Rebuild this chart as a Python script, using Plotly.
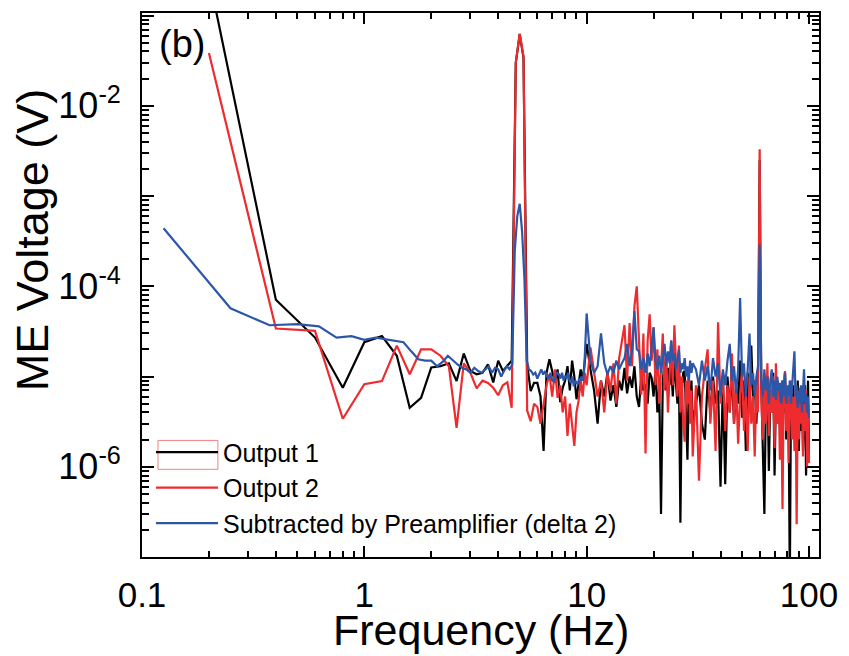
import plotly.graph_objects as go

# ---------------- data ----------------
# Output 1 / Output 2 are sampled on a 0.2 Hz grid up to 10 Hz, then coarser.
lo_start, lo_step = 0.2, 0.2      # 0.2 .. 10.0 Hz
mid_start, mid_step = 10.4, 0.4   # 10.4 .. 30.0 Hz
hi_start, hi_step = 31.0, 1.0     # 31 .. 100 Hz
# Subtracted trace uses a 0.125 Hz grid up to 10 Hz
blo_start, blo_step = 0.125, 0.125

out1_lo = [0.27, 7.1e-5, 2.7e-5, 7.5e-6, 2.4e-5,
           2.8e-5, 1.7e-5, 4.5e-6, 5.8e-6, 1.26e-5,
           1.3e-5, 1.4e-5, 8.9e-6, 1.8e-5, 1.15e-5,
           1.06e-5, 1.1e-5, 1.36e-5, 8.6e-6, 1.5e-5,
           1.15e-5, 1.3e-5, 1.5e-5, 0.03, 0.062,
           0.034, 1.36e-5, 6.9e-6, 8.5e-6, 8.5e-6,
           6e-6, 1.5e-6, 1.1e-5, 1.55e-5, 1.1e-5,
           8.5e-6, 1.2e-5, 5.2e-6, 7.5e-6, 9e-6,
           1.3e-5, 7e-6, 1.5e-5, 1e-5, 5.6e-6,
           8e-6, 1.2e-5, 9e-6, 1.4e-5, 2.3e-5]
out1_mid = [1.2e-5, 7e-6, 3e-6, 9e-6, 6e-6,
            1.1e-5, 5.4e-6, 8e-6, 4.6e-6, 9e-6,
            7e-6, 1.25e-5, 6.5e-6, 1e-5, 7.5e-6,
            1.3e-5, 6e-6, 4.6e-6, 1e-5, 7e-6,
            8.2e-6, 5e-6, 1.1e-5, 9.7e-6, 6e-6,
            1.2e-5, 4e-6, 8e-6, 3e-7, 9e-6,
            1.4e-5, 7e-6, 1.25e-5, 8e-6, 1.3e-5,
            6e-6, 1.5e-5, 9e-6, 5e-6, 1e-5,
            2.4e-7, 7e-6, 1.1e-5, 1.15e-5, 4e-6,
            1.2e-6, 8e-6, 5e-6, 9e-6, 3e-6]
out1_hi = [5e-6, 8e-6, 3e-6, 2e-6, 9e-6, 4e-6, 1e-5, 5e-6, 7e-6, 6e-7,
           9e-6, 6.4e-7, 1e-5, 4e-6, 1.2e-5, 3e-6, 8e-6, 5e-6, 1.5e-5, 3.5e-6,
           9e-6, 1.5e-6, 1.1e-5, 4e-6, 2.2e-5, 6e-6, 9e-6, 3e-6, 1.2e-5, 2.5e-3,
           8e-6, 1.1e-6, 3e-7, 6e-6, 1e-5, 9e-7, 7e-6, 4e-6, 1.1e-5, 8e-7,
           6e-6, 9e-6, 3e-6, 7e-6, 2.5e-6, 9e-6, 4e-6, 1.1e-5, 2e-6, 6e-6,
           3.5e-6, 5e-8, 7e-6, 3e-6, 8e-6, 2e-6, 6e-6, 3.5e-6, 9e-6, 1.5e-6,
           5e-6, 2.5e-6, 7e-6, 1.5e-6, 4e-6, 8e-6, 8e-7, 3e-6, 9e-6, 1.2e-6]

out2_lo = [3.85e-2, 3.4e-5, 3.2e-5, 3.4e-6, 8.2e-6,
           8.9e-6, 2.2e-5, 1.06e-5, 2e-5, 2e-5,
           1.7e-5, 1.3e-5, 2.7e-6, 1.4e-5, 1.1e-5,
           7.4e-6, 9e-6, 8.5e-6, 7.5e-6, 6.2e-6,
           8e-6, 8.6e-6, 4.5e-6, 0.03, 0.063,
           0.035, 4.2e-6, 3.2e-6, 5e-6, 4.6e-6,
           3e-6, 5e-6, 8e-6, 1.06e-5, 6e-6,
           1.2e-5, 5.8e-6, 8e-6, 4e-6, 6e-6,
           2.2e-6, 5e-6, 3e-6, 1.7e-6, 4e-6,
           5.4e-6, 9e-6, 6e-6, 1.1e-5, 8e-6]
out2_mid = [2.1e-5, 1.15e-5, 6e-6, 9e-6, 4e-6,
            1.1e-5, 7e-6, 1.4e-5, 5e-6, 1.6e-5,
            2.5e-5, 3.7e-5, 9e-6, 3.9e-5, 1.3e-5,
            6e-5, 1e-4, 2e-5, 6.3e-6, 3e-5,
            1.4e-6, 2.5e-5, 4.9e-5, 1.5e-5, 3.5e-5,
            8e-6, 2e-5, 5e-6, 1.3e-5, 3e-5,
            7e-6, 1.8e-5, 4e-6, 1.2e-5, 2.5e-5,
            8e-6, 3.7e-5, 1.5e-5, 6e-6, 2.2e-5,
            4e-6, 1e-5, 3e-6, 1.9e-6, 9e-6,
            5e-6, 1.2e-5, 3e-6, 7e-6, 1.3e-6]
out2_hi = [8e-6, 7e-7, 6e-6, 1.2e-5, 2e-5, 3e-6, 9e-6, 1.5e-6, 4e-5, 5e-6,
           1.1e-5, 2.5e-6, 8e-6, 4e-6, 1.8e-5, 3e-6, 9e-6, 1.8e-6, 6e-6, 1.2e-5,
           2.5e-6, 7e-6, 1.5e-6, 1e-5, 3e-6, 6e-6, 1.3e-6, 8e-6, 4e-6, 3.3e-3,
           6e-6, 2e-6, 9e-6, 3e-6, 1.4e-5, 2.2e-6, 7e-6, 4e-6, 1e-5, 1.6e-6,
           1.4e-5, 3e-6, 7e-6, 1.2e-6, 6e-6, 3.4e-7, 8e-6, 1.15e-5, 2.5e-6, 6e-6,
           1.1e-6, 5e-6, 9e-6, 2e-6, 6e-6, 1.5e-6, 7e-6, 2.3e-7, 5e-6, 2e-6,
           7.5e-6, 3e-6, 6e-6, 1.3e-6, 5e-6, 2.5e-6, 7e-6, 1e-6, 4e-6, 1.1e-6]

sub_lo = [4.4e-4, 5.7e-5, 3.7e-5, 3.8e-5, 3.6e-5, 2.7e-5, 2.8e-5, 2.55e-5,
          2.7e-5, 2.6e-5, 2.5e-5, 2.4e-5, 1.9e-5, 1.55e-5, 1.5e-5, 1.5e-5,
          1.3e-5, 1.45e-5, 1.7e-5, 1.5e-5, 1.36e-5, 1.25e-5, 1.2e-5, 1.1e-5,
          1.25e-5, 1.15e-5, 1.1e-5, 1.2e-5, 1.3e-5, 1.1e-5, 1.25e-5, 1.2e-5,
          1.0e-5, 1.15e-5, 1.3e-5, 1.2e-5, 1.36e-5, 2.5e-4, 6e-4, 8.2e-4,
          4e-4, 1.2e-4, 1.5e-5, 1.2e-5, 1.15e-5, 1.05e-5, 1.1e-5, 9.5e-6,
          1.1e-5, 1.2e-5, 1.05e-5, 1.15e-5, 1.0e-5, 9.5e-6, 1.1e-5, 9e-6,
          8.9e-6, 1.0e-5, 1.1e-5, 1.06e-5, 9.5e-6, 1.1e-5, 9e-6, 1.0e-5,
          9.7e-6, 1.1e-5, 9e-6, 8.5e-6, 1.0e-5, 7.8e-6, 9e-6, 8.5e-6,
          8.2e-6, 9.5e-6, 8.9e-6, 1.0e-5, 9e-6, 1.2e-5, 2.5e-5, 5e-5]
sub_mid = [1.5e-5, 1.1e-5, 1.3e-5, 3e-5, 1.4e-5,
           1.06e-5, 1.3e-5, 1.1e-5, 1.5e-5, 1.2e-5,
           1.4e-5, 1.6e-5, 2.3e-5, 1.3e-5, 2e-5,
           5.3e-5, 2e-5, 1.9e-5, 1.2e-5, 1.6e-5,
           1.1e-5, 1.8e-5, 1.3e-5, 2.2e-5, 3.5e-5,
           1.5e-5, 1.2e-5, 1.7e-5, 1.1e-5, 1.6e-5,
           2.3e-5, 1.3e-5, 1.9e-5, 1.4e-5, 2.5e-5,
           1.5e-5, 1.8e-5, 1.2e-5, 1.6e-5, 2e-5,
           1.1e-5, 1.4e-5, 1.2e-5, 1.6e-5, 1e-5,
           1.3e-5, 9e-6, 1.5e-5, 1.1e-5, 1.4e-5]
sub_hi = [1.2e-5, 8e-6, 1.5e-5, 9e-6, 1.3e-5, 7e-6, 1.6e-5, 1e-5, 1.4e-5, 6e-6,
          1.2e-5, 8e-6, 1.5e-5, 2.3e-5, 9e-6, 1.3e-5, 6.5e-6, 1.2e-5, 7.4e-5, 1e-5,
          1.4e-5, 6e-6, 1.2e-5, 3e-5, 8e-6, 1.1e-5, 6e-6, 1e-5, 1.3e-5, 2.9e-4,
          9e-6, 6e-6, 1.2e-5, 7e-6, 1e-5, 5e-6, 9e-6, 1.2e-5, 6e-6, 9e-6,
          5.5e-6, 1e-5, 7e-6, 8.5e-6, 5e-6, 9e-6, 6e-6, 1.1e-5, 5e-6, 8e-6,
          6e-6, 9e-6, 5e-6, 7.5e-6, 1e-5, 1.9e-5, 6e-6, 8e-6, 4.5e-6, 7e-6,
          5e-6, 8e-6, 4e-6, 7e-6, 1.2e-5, 5e-6, 6.5e-6, 4e-6, 6e-6, 3.5e-6]

x_tick_vals = [0.1, 1, 10, 100]
x_tick_text = ["0.1", "1", "10", "100"]
y_tick_vals = [1e-7, 1e-6, 1e-5, 1e-4, 1e-3, 1e-2, 1e-1]
y_tick_text = ["", "10<sup>-6</sup>", "", "10<sup>-4</sup>", "", "10<sup>-2</sup>", ""]
names = ["Output 1", "Output 2", "Subtracted by Preamplifier (delta 2)"]
colors = ["#000000", "#ee2b2e", "#2c56a8"]


def grid(segments):
    f, v = [], []
    for start, step, vals in segments:
        for i, val in enumerate(vals):
            f.append(round(start + step * i, 4))
            v.append(val)
    return f, v


f1, v1 = grid([(lo_start, lo_step, out1_lo), (mid_start, mid_step, out1_mid), (hi_start, hi_step, out1_hi)])
f2, v2 = grid([(lo_start, lo_step, out2_lo), (mid_start, mid_step, out2_mid), (hi_start, hi_step, out2_hi)])
f3, v3 = grid([(blo_start, blo_step, sub_lo), (mid_start, mid_step, sub_mid), (hi_start, hi_step, sub_hi)])

fig = go.Figure()
for f, v, n, c in zip([f1, f2, f3], [v1, v2, v3], names, colors):
    fig.add_trace(go.Scatter(x=f, y=v, mode="lines", name=n,
                             line=dict(color=c, width=2.2)))

FONT = "Liberation Sans, Arial, sans-serif"
x_minor = [m * d for d in (0.1, 1, 10) for m in range(2, 10)]
y_minor = [m * d for d in (1e-7, 1e-6, 1e-5, 1e-4, 1e-3, 1e-2) for m in range(2, 10)]

fig.update_xaxes(type="log", range=[-1, 2.045], tickmode="array",
                 tickvals=x_tick_vals, ticktext=x_tick_text,
                 ticks="inside", ticklen=11, tickwidth=2, tickcolor="black",
                 showline=True, linecolor="black", linewidth=2, mirror="ticks",
                 showgrid=False, zeroline=False,
                 tickfont=dict(family=FONT, size=35, color="black"),
                 ticklabelstandoff=6,
                 minor=dict(tickmode="array", tickvals=x_minor, ticks="inside",
                            ticklen=6, tickwidth=2, tickcolor="black", showgrid=False))
fig.update_yaxes(type="log", range=[-7.0, -0.972], tickmode="array",
                 tickvals=y_tick_vals, ticktext=y_tick_text,
                 ticks="inside", ticklen=12, tickwidth=2, tickcolor="black",
                 showline=True, linecolor="black", linewidth=2, mirror="ticks",
                 showgrid=False, zeroline=False,
                 tickfont=dict(family=FONT, size=36, color="black"),
                 ticklabelstandoff=12,
                 minor=dict(tickmode="array", tickvals=y_minor, ticks="inside",
                            ticklen=7, tickwidth=2, tickcolor="black", showgrid=False))

L, R, T, B = 142, 29, 11, 99
W, H = 849, 656
pw, ph = W - L - R, H - T - B

def px(xp):
    return (xp - L) / pw

def py(yp):
    return (H - B - yp) / ph

fig.update_layout(
    width=W, height=H, margin=dict(l=L, r=R, t=T, b=B),
    paper_bgcolor="white", plot_bgcolor="white",
    showlegend=True,
    legend=dict(x=px(151), y=py(429), xanchor="left", yanchor="top",
                bgcolor="rgba(0,0,0,0)", itemwidth=62,
                font=dict(family=FONT, size=25, color="black"),
                tracegroupgap=0),
    annotations=[
        dict(text="(b)", x=px(157), y=py(42), xref="paper", yref="paper",
             xanchor="left", yanchor="middle", showarrow=False,
             font=dict(family=FONT, size=38, color="black")),
        dict(text="Frequency (Hz)", x=px(481), y=py(630), xref="paper", yref="paper",
             xanchor="center", yanchor="middle", showarrow=False,
             font=dict(family=FONT, size=43, color="black")),
        dict(text="ME Voltage (V)", x=px(32), y=py(239), xref="paper", yref="paper",
             xanchor="center", yanchor="middle", showarrow=False, textangle=-90,
             font=dict(family=FONT, size=45, color="black")),
    ],
    shapes=[dict(type="rect", xref="paper", yref="paper",
                 x0=px(158), x1=px(218), y0=py(469), y1=py(440),
                 line=dict(color="rgba(235,90,90,0.75)", width=1))],
)

fig.write_html("out.html")
